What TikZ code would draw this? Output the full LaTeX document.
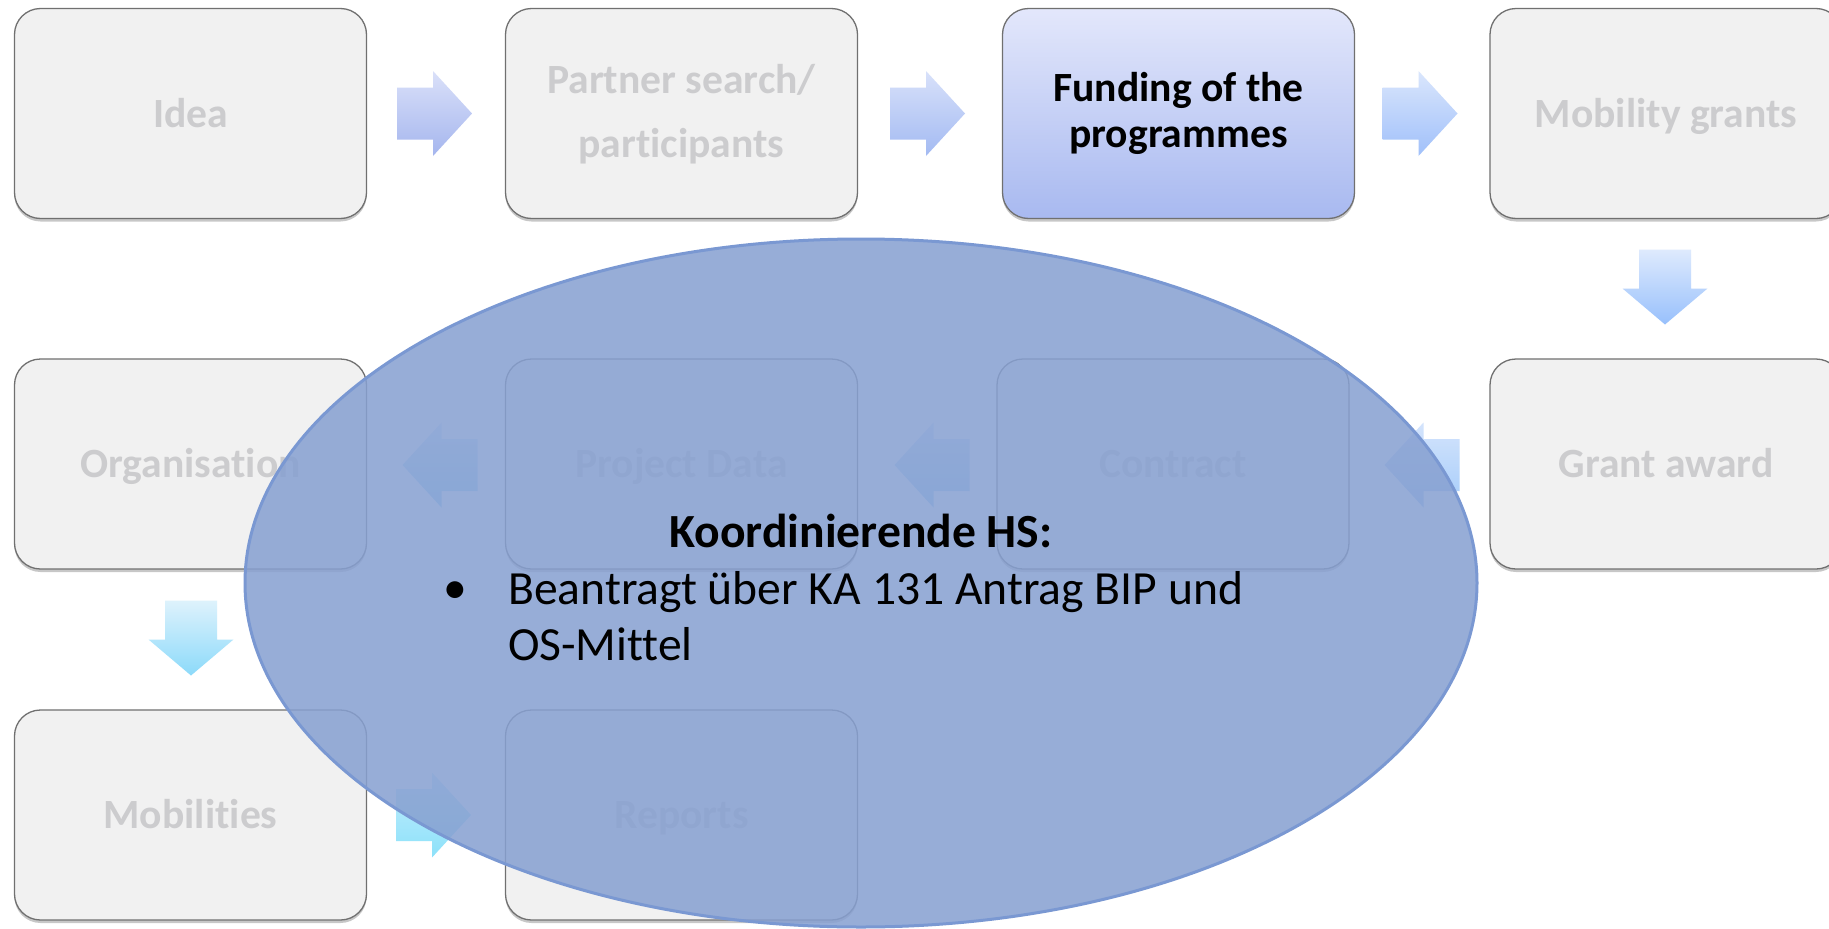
\documentclass[tikz,border=0pt]{standalone}
\usepackage{fontspec}
\setmainfont{Carlito}[Ligatures=NoCommon]
\usetikzlibrary{shadows}
\definecolor{boxfill}{RGB}{241,241,241}
\definecolor{boxline}{RGB}{112,112,112}
\definecolor{boxtxt}{RGB}{204,204,206}
\definecolor{fundtop}{RGB}{227,231,251}
\definecolor{fundbot}{RGB}{168,185,240}
\definecolor{ellfill}{RGB}{135,160,209}
\definecolor{ellline}{RGB}{122,152,210}
\definecolor{aAt}{RGB}{218,224,249}\definecolor{aAb}{RGB}{165,182,238}
\definecolor{aBt}{RGB}{216,225,250}\definecolor{aBb}{RGB}{163,186,242}
\definecolor{aCt}{RGB}{218,230,252}\definecolor{aCb}{RGB}{160,192,250}
\definecolor{aDt}{RGB}{222,234,253}\definecolor{aDb}{RGB}{152,192,252}
\definecolor{aEt}{RGB}{212,228,252}\definecolor{aEb}{RGB}{165,204,250}
\definecolor{aFt}{RGB}{212,232,252}\definecolor{aFb}{RGB}{155,208,250}
\definecolor{aGt}{RGB}{215,236,252}\definecolor{aGb}{RGB}{150,212,250}
\definecolor{aHt}{RGB}{222,242,252}\definecolor{aHb}{RGB}{140,218,250}
\definecolor{aIt}{RGB}{200,238,252}\definecolor{aIb}{RGB}{140,225,250}
\newcommand\ArrR[4]{\shade[top color=#3,bottom color=#4] ({#1-37.5},{#2-26}) -- ({#1-1.5},{#2-26}) -- ({#1-1.5},{#2-42.5}) -- ({#1+37.5},{#2}) -- ({#1-1.5},{#2+42.5}) -- ({#1-1.5},{#2+26}) -- ({#1-37.5},{#2+26}) -- cycle;}
\newcommand\ArrL[4]{\shade[top color=#3,bottom color=#4] ({#1+37.5},{#2-26}) -- ({#1+1.5},{#2-26}) -- ({#1+1.5},{#2-42.5}) -- ({#1-37.5},{#2}) -- ({#1+1.5},{#2+42.5}) -- ({#1+1.5},{#2+26}) -- ({#1+37.5},{#2+26}) -- cycle;}
\newcommand\ArrD[4]{\shade[top color=#3,bottom color=#4] ({#1-26},{#2-37.5}) -- ({#1+26},{#2-37.5}) -- ({#1+26},{#2+1.5}) -- ({#1+42.5},{#2+1.5}) -- ({#1},{#2+37.5}) -- ({#1-42.5},{#2+1.5}) -- ({#1-26},{#2+1.5}) -- cycle;}
\tikzset{
  box/.style={rounded corners=26pt, minimum width=352pt, minimum height=210pt, inner sep=0pt,
    draw=boxline, line width=1.3pt, fill=boxfill,
    drop shadow={shadow xshift=0pt, shadow yshift=-3pt, opacity=0.22, fill=black}},
  fundbox/.style={box, top color=fundtop, bottom color=fundbot},
  boxtext/.style={font=\fontsize{41.6}{46}\selectfont\bfseries, text=boxtxt, anchor=base, inner sep=0pt},
  fundtext/.style={boxtext, text=black},
  elltext/.style={font=\fontsize{47.6}{56}\selectfont, text=black, inner sep=0pt},
  ellbold/.style={elltext, font=\fontsize{47.6}{56}\selectfont\bfseries}
}
\begin{document}
\begin{tikzpicture}[x=1pt,y=-1pt]
\useasboundingbox (0,0) rectangle (1829,929);
\clip (0,0) rectangle (1829,929);
\fill[white] (0,0) rectangle (1829,929);
% row 1
\node[box] (idea) at (190.5,113.5) {};
\node[box] (partner) at (681.5,113.5) {};
\node[fundbox] (funding) at (1178.5,113.5) {};
\node[box] (mobgr) at (1666,113.5) {};
% row 2
\node[box] (org) at (190.5,464) {};
\node[box] (pdata) at (681.5,464) {};
\node[box] (contract) at (1173,464) {};
\node[box] (grant) at (1666,464) {};
% row 3
\node[box] (mobil) at (190.5,815) {};
\node[box] (reports) at (681.5,815) {};
% texts
\node[boxtext] (tidea) at (190.5,127) {Idea};
\node[boxtext] (tpartnerA) at (681.5,93) {Partner search/};
\node[boxtext] (tpartnerB) at (681.5,157) {participants};
\node[fundtext] (tfundA) at (1178.5,101) {Funding of the};
\node[fundtext] (tfundB) at (1178.5,147) {programmes};
\node[boxtext] (tmobgr) at (1666,127) {Mobility grants};
\node[boxtext] (torg) at (190.5,477) {Organisation};
\node[boxtext] (tpdata) at (681.5,477) {Project Data};
\node[boxtext] (tcontract) at (1173,477) {Contract};
\node[boxtext] (tgrant) at (1666,477) {Grant award};
\node[boxtext] (tmobil) at (190.5,828) {Mobilities};
\node[boxtext] (treports) at (681.5,828) {Reports};
% arrows
\ArrR{434.5}{113.5}{aAt}{aAb}
\ArrR{927.5}{113.5}{aBt}{aBb}
\ArrR{1420}{113.5}{aCt}{aCb}
\ArrD{1665}{287}{aDt}{aDb}
\ArrL{1422}{465}{aEt}{aEb}
\ArrL{932}{465}{aFt}{aFb}
\ArrL{440}{465}{aGt}{aGb}
\ArrD{191}{638}{aHt}{aHb}
\ArrR{433.5}{815}{aIt}{aIb}
% ellipse overlay
\path[fill=ellfill, fill opacity=0.86, draw=ellline, line width=3pt] (861,583) ellipse [x radius=616pt, y radius=344pt];
\node[ellbold, anchor=base] (hs) at (861,547) {Koordinierende HS:};
\node[elltext, anchor=base] (bul) at (455,603) {•};
\node[elltext, anchor=base west] (lineA) at (508,604) {Beantragt über KA 131 Antrag BIP und};
\node[elltext, anchor=base west] (lineB) at (508,660) {OS-Mittel};
\end{tikzpicture}
\end{document}
